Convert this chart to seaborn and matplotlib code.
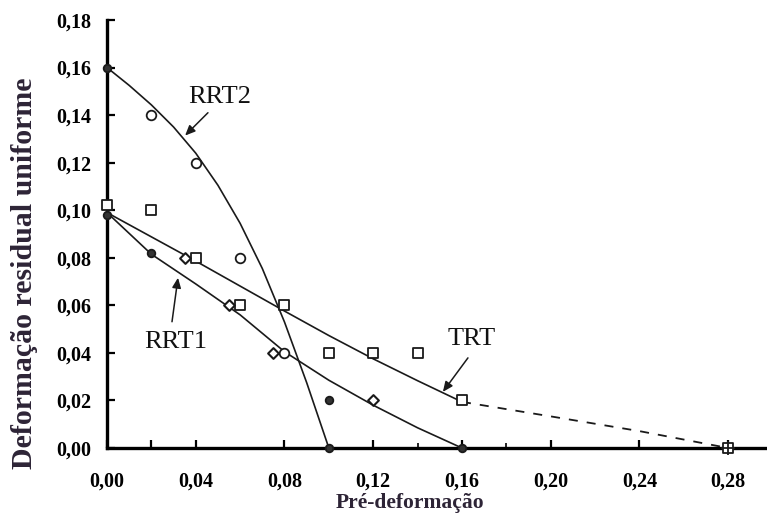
import numpy as np
import pandas as pd
import matplotlib
matplotlib.use("Agg")
import matplotlib.pyplot as plt
from matplotlib.ticker import FixedLocator, FixedFormatter
import seaborn as sns

sns.set_theme(style="white")
plt.rcParams["font.family"] = ["Liberation Serif", "DejaVu Serif"]

# --- measured points -------------------------------------------------------
# RRT2 (open circles)
rrt2_x = [0.02, 0.04, 0.06, 0.08]
rrt2_y = [0.140, 0.120, 0.080, 0.040]
# RRT1 (open diamonds)
rrt1_x = [0.035, 0.055, 0.075, 0.12]
rrt1_y = [0.080, 0.060, 0.040, 0.020]
# TRT (open squares)
trt_x = [0.0, 0.02, 0.04, 0.06, 0.08, 0.10, 0.12, 0.14, 0.16, 0.28]
trt_y = [0.102, 0.100, 0.080, 0.060, 0.060, 0.040, 0.040, 0.040, 0.020, 0.0]
# solid dots (end points of the curves)
dot_x = [0.0, 0.0, 0.02, 0.10, 0.10, 0.16]
dot_y = [0.160, 0.098, 0.082, 0.020, 0.0, 0.0]

# --- fitted curves ----------------------------------------------------------
rrt2_fit_x = [0.0, 0.01, 0.02, 0.03, 0.04, 0.05, 0.06, 0.07, 0.08, 0.09, 0.10]
rrt2_fit_y = [0.160, 0.1525, 0.1443, 0.1350, 0.1240, 0.1105, 0.0945, 0.0755, 0.0530, 0.0275, 0.0]

rrt1_fit_x = [0.0, 0.02, 0.04, 0.06, 0.08, 0.10, 0.12, 0.14, 0.16]
rrt1_fit_y = [0.099, 0.0815, 0.0690, 0.0560, 0.0405, 0.0285, 0.0180, 0.0085, 0.0]

trt_fit_x = [0.0, 0.02, 0.04, 0.06, 0.08, 0.10, 0.12, 0.14, 0.16]
trt_fit_y = [0.099, 0.0888, 0.0786, 0.0681, 0.0576, 0.0473, 0.0375, 0.0283, 0.0194]

# extrapolated TRT branch (dashed)
trt_ext_x = [0.16, 0.20, 0.24, 0.28]
trt_ext_y = [0.0194, 0.0133, 0.0071, 0.0]

# --- axis ticks ---------------------------------------------------------------
x_ticks = [0.0, 0.02, 0.04, 0.08, 0.12, 0.16, 0.20, 0.24, 0.28]
x_tick_labels = ["0,00", "", "0,04", "0,08", "0,12", "0,16", "0,20", "0,24", "0,28"]
x_minor_ticks = [0.14, 0.18]
y_ticks = [0.0, 0.02, 0.04, 0.06, 0.08, 0.10, 0.12, 0.14, 0.16, 0.18]
y_tick_labels = ["0,00", "0,02", "0,04", "0,06", "0,08", "0,10", "0,12", "0,14", "0,16", "0,18"]

LINE = "#1a1a1a"
LABEL_COLOR = "#2d2436"

fig = plt.figure(figsize=(7.67, 5.20), dpi=100)
ax = fig.add_axes([107 / 767, 72 / 520, 660 / 767, 428 / 520])

# curves
sns.lineplot(x=rrt2_fit_x, y=rrt2_fit_y, sort=False, color=LINE, lw=1.2, ax=ax, zorder=2)
sns.lineplot(x=rrt1_fit_x, y=rrt1_fit_y, sort=False, color=LINE, lw=1.2, ax=ax, zorder=2)
sns.lineplot(x=trt_fit_x, y=trt_fit_y, sort=False, color=LINE, lw=1.2, ax=ax, zorder=2)
sns.lineplot(x=trt_ext_x, y=trt_ext_y, sort=False, color=LINE, lw=1.3, ax=ax, zorder=2,
             linestyle=(0, (5, 5)))

# markers
sns.scatterplot(x=trt_x, y=trt_y, marker="s", s=48, facecolor="white",
                edgecolor=LINE, linewidth=1.3, ax=ax, zorder=3, clip_on=False)
sns.scatterplot(x=trt_x[-1:], y=trt_y[-1:], marker="+", s=110, color=LINE,
                linewidth=1.3, ax=ax, zorder=4, clip_on=False)
sns.scatterplot(x=rrt2_x, y=rrt2_y, marker="o", s=48, facecolor="white",
                edgecolor=LINE, linewidth=1.3, ax=ax, zorder=3, clip_on=False)
sns.scatterplot(x=rrt1_x, y=rrt1_y, marker="D", s=30, facecolor="white",
                edgecolor=LINE, linewidth=1.5, ax=ax, zorder=3, clip_on=False)
sns.scatterplot(x=dot_x, y=dot_y, marker="o", s=30, facecolor="#333333",
                edgecolor=LINE, linewidth=1.3, ax=ax, zorder=4, clip_on=False)

# curve labels with arrows
label_kw = dict(fontsize=19, color="#111111", ha="center", va="center")
ax.text(0.0507, 0.1476, "RRT2", **label_kw)
ax.text(0.0309, 0.0446, "RRT1", **label_kw)
ax.text(0.1645, 0.0459, "TRT", **label_kw)
arrow_kw = dict(arrowstyle="-|>,head_length=0.5,head_width=0.22", color=LINE, lw=1.1,
                shrinkA=0, shrinkB=0)
ax.annotate("", xy=(0.0352, 0.1314), xytext=(0.0455, 0.1410), arrowprops=arrow_kw)
ax.annotate("", xy=(0.0320, 0.0716), xytext=(0.0293, 0.0531), arrowprops=arrow_kw)
ax.annotate("", xy=(0.1514, 0.0236), xytext=(0.1627, 0.0379), arrowprops=arrow_kw)

# axes
ax.set_xlim(0, 0.2975)
ax.set_ylim(0, 0.18)
sns.despine(ax=ax, top=True, right=True)
for side in ("left", "bottom"):
    ax.spines[side].set_linewidth(2.4)
    ax.spines[side].set_color("black")

ax.xaxis.set_major_locator(FixedLocator(x_ticks))
ax.xaxis.set_major_formatter(FixedFormatter(x_tick_labels))
ax.xaxis.set_minor_locator(FixedLocator(x_minor_ticks))
ax.yaxis.set_major_locator(FixedLocator(y_ticks))
ax.yaxis.set_major_formatter(FixedFormatter(y_tick_labels))

ax.tick_params(axis="both", which="major", direction="in", length=6, width=1.6,
               color="black", labelsize=14.5, labelcolor="black")
ax.tick_params(axis="x", which="major", pad=17, bottom=True)
ax.tick_params(axis="y", which="major", pad=11, left=True)
ax.tick_params(axis="x", which="minor", direction="in", length=3.5, width=1.2,
               bottom=True, color="black")
for lab in ax.get_xticklabels() + ax.get_yticklabels():
    lab.set_fontweight("bold")

ax.set_xlabel("Pré-deformação", fontsize=15.5, fontweight="bold", color=LABEL_COLOR)
ax.set_ylabel("Deformação residual uniforme", fontsize=21.5, fontweight="bold",
              color=LABEL_COLOR)
ax.xaxis.set_label_coords(0.459, -0.106)
ax.yaxis.set_label_coords(-0.104, 0.409)

ax.set_facecolor("white")
fig.patch.set_facecolor("white")
fig.savefig("out.png", dpi=100, facecolor="white")
